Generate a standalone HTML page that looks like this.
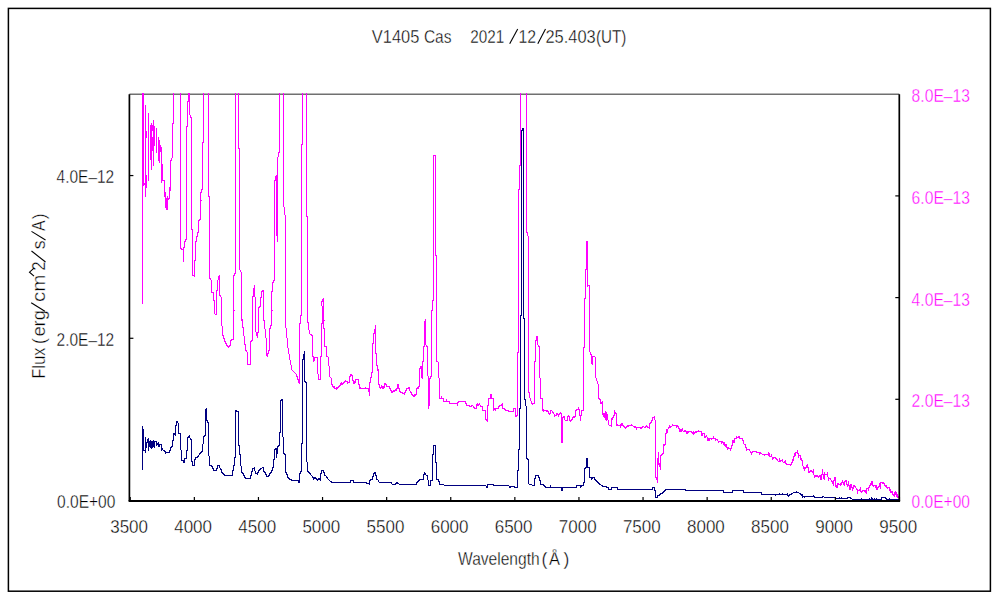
<!DOCTYPE html>
<html><head><meta charset="utf-8"><style>html,body{margin:0;padding:0;background:#fff;width:1000px;height:600px;overflow:hidden}svg{display:block}</style></head>
<body><svg width="1000" height="600" viewBox="0 0 1000 600" shape-rendering="auto">
<rect width="1000" height="600" fill="#fff"/>
<rect x="8.4" y="8.4" width="982" height="582.8" fill="none" stroke="#000" stroke-width="1.5"/>
<line x1="129.4" y1="94.2" x2="899.3" y2="94.2" stroke="#707070" stroke-width="1.6"/>
<clipPath id="c"><rect x="129.4" y="93" width="770.5" height="408"/></clipPath>
<g clip-path="url(#c)" fill="none" stroke-width="1" stroke-linejoin="miter" shape-rendering="crispEdges">
<path d="M142 80h1v224h-1zM143 80h1v106h-1zM144 183h1v2h-1zM145 105h1v92h-1zM146 131h1v7h-1zM146 175h1v13h-1zM148 113h1v68h-1zM150 125h1v35h-1zM151 123h1v47h-1zM152 125h1v6h-1zM152 137h1v14h-1zM153 120h1v46h-1zM154 126h1v20h-1zM156 128h1v25h-1zM158 137h1v24h-1zM159 140h1v23h-1zM160 145h1v7h-1zM161 147h1v36h-1zM162 164h1v17h-1zM163 180h1v1h-1zM164 180h1v17h-1zM165 192h1v16h-1zM166 198h1v12h-1zM167 196h1v14h-1zM168 198h1v2h-1zM169 187h1v12h-1zM170 160h1v31h-1zM171 158h1v3h-1zM172 123h1v35h-1zM173 80h1v44h-1zM180 80h1v169h-1zM181 248h1v2h-1zM182 249h1v1h-1zM183 247h1v15h-1zM184 241h1v7h-1zM185 239h1v3h-1zM186 126h1v114h-1zM187 101h1v26h-1zM188 90h1v12h-1zM189 80h1v35h-1zM190 115h1v3h-1zM191 117h1v113h-1zM192 229h1v47h-1zM193 275h1v1h-1zM194 260h1v17h-1zM195 241h1v20h-1zM196 236h1v6h-1zM197 232h1v5h-1zM198 220h1v13h-1zM199 219h1v2h-1zM200 192h1v28h-1zM201 189h1v4h-1zM201 200h1v1h-1zM202 142h1v48h-1zM203 91h1v52h-1zM204 80h1v12h-1zM205 80h1v1h-1zM206 80h1v1h-1zM207 80h1v1h-1zM208 80h1v117h-1zM209 196h1v83h-1zM210 278h1v2h-1zM211 280h1v13h-1zM212 292h1v1h-1zM213 292h1v9h-1zM214 300h1v14h-1zM215 314h1v1h-1zM216 290h1v25h-1zM217 280h1v11h-1zM218 276h1v4h-1zM219 275h1v21h-1zM220 295h1v2h-1zM221 297h1v29h-1zM222 326h1v10h-1zM223 335h1v4h-1zM224 338h1v4h-1zM225 341h1v3h-1zM226 343h1v3h-1zM227 345h1v2h-1zM228 346h1v2h-1zM229 345h1v2h-1zM230 340h1v6h-1zM231 339h1v2h-1zM232 339h1v1h-1zM233 275h1v65h-1zM234 273h1v3h-1zM234 310h1v1h-1zM235 80h1v194h-1zM236 80h1v1h-1zM237 80h1v1h-1zM238 80h1v69h-1zM239 148h1v122h-1zM240 270h1v2h-1zM241 272h1v49h-1zM242 319h1v9h-1zM243 327h1v9h-1zM244 336h1v9h-1zM245 344h1v7h-1zM246 350h1v2h-1zM247 352h1v13h-1zM248 364h1v1h-1zM249 364h1v1h-1zM250 341h1v24h-1zM251 340h1v2h-1zM252 296h1v45h-1zM253 288h1v9h-1zM254 285h1v12h-1zM255 297h1v35h-1zM256 332h1v4h-1zM257 332h1v6h-1zM258 307h1v26h-1zM259 306h1v2h-1zM260 297h1v10h-1zM261 291h1v7h-1zM262 290h1v2h-1zM263 290h1v31h-1zM264 320h1v9h-1zM265 329h1v9h-1zM266 338h1v18h-1zM267 353h1v4h-1zM268 350h1v4h-1zM269 328h1v23h-1zM270 325h1v4h-1zM271 291h1v35h-1zM272 282h1v10h-1zM272 310h1v1h-1zM273 280h1v3h-1zM274 180h1v101h-1zM275 176h1v5h-1zM276 175h1v61h-1zM277 157h1v85h-1zM278 152h1v5h-1zM279 80h1v73h-1zM280 80h1v1h-1zM281 80h1v1h-1zM282 80h1v1h-1zM283 80h1v127h-1zM284 207h1v8h-1zM285 215h1v113h-1zM286 328h1v10h-1zM287 338h1v10h-1zM288 348h1v6h-1zM289 354h1v6h-1zM290 360h1v5h-1zM291 365h1v5h-1zM292 370h1v1h-1zM293 371h1v1h-1zM294 372h1v1h-1zM295 373h1v1h-1zM296 374h1v3h-1zM297 376h1v4h-1zM298 379h1v4h-1zM299 323h1v61h-1zM300 315h1v9h-1zM301 144h1v172h-1zM302 80h1v65h-1zM303 80h1v1h-1zM304 80h1v1h-1zM305 80h1v1h-1zM306 80h1v137h-1zM307 216h1v107h-1zM308 322h1v8h-1zM309 330h1v4h-1zM310 334h1v1h-1zM311 334h1v2h-1zM312 335h1v22h-1zM313 356h1v6h-1zM314 357h1v4h-1zM315 357h1v1h-1zM316 357h1v1h-1zM317 357h1v17h-1zM318 374h1v6h-1zM319 379h1v1h-1zM320 356h1v24h-1zM321 301h1v5h-1zM321 323h1v34h-1zM322 299h1v3h-1zM322 306h1v18h-1zM323 298h1v31h-1zM324 320h1v1h-1zM324 328h1v19h-1zM325 346h1v1h-1zM326 346h1v11h-1zM327 356h1v1h-1zM328 357h1v9h-1zM329 366h1v11h-1zM330 377h1v1h-1zM331 378h1v7h-1zM332 384h1v3h-1zM333 386h1v2h-1zM334 386h1v3h-1zM335 388h1v1h-1zM336 387h1v3h-1zM337 387h1v2h-1zM338 386h1v2h-1zM339 385h1v2h-1zM340 383h1v3h-1zM341 382h1v3h-1zM342 383h1v2h-1zM343 382h1v2h-1zM344 381h1v2h-1zM345 380h1v2h-1zM346 381h1v1h-1zM347 381h1v3h-1zM348 382h1v1h-1zM349 376h1v7h-1zM350 374h1v3h-1zM351 374h1v2h-1zM352 375h1v6h-1zM353 380h1v4h-1zM354 381h1v3h-1zM355 379h1v4h-1zM356 379h1v1h-1zM357 379h1v1h-1zM358 379h1v6h-1zM359 384h1v5h-1zM360 387h1v2h-1zM361 388h1v1h-1zM362 388h1v1h-1zM363 388h1v1h-1zM364 388h1v1h-1zM365 387h1v2h-1zM366 388h1v1h-1zM367 388h1v1h-1zM368 388h1v4h-1zM369 382h1v14h-1zM370 377h1v6h-1zM371 372h1v6h-1zM372 343h1v30h-1zM373 333h1v11h-1zM374 329h1v5h-1zM375 325h1v29h-1zM376 353h1v13h-1zM377 365h1v6h-1zM378 369h1v16h-1zM379 384h1v4h-1zM380 387h1v2h-1zM381 385h1v3h-1zM382 386h1v3h-1zM383 386h1v3h-1zM384 383h1v5h-1zM385 383h1v2h-1zM386 384h1v3h-1zM387 386h1v1h-1zM388 386h1v1h-1zM389 386h1v3h-1zM390 388h1v3h-1zM391 390h1v3h-1zM392 391h1v2h-1zM393 390h1v2h-1zM394 390h1v2h-1zM395 389h1v2h-1zM396 388h1v3h-1zM397 384h1v5h-1zM398 384h1v5h-1zM399 388h1v4h-1zM400 391h1v2h-1zM401 392h1v1h-1zM402 392h1v2h-1zM403 393h1v1h-1zM404 392h1v3h-1zM405 390h1v3h-1zM406 388h1v3h-1zM407 388h1v1h-1zM408 387h1v2h-1zM409 387h1v4h-1zM410 391h1v2h-1zM411 392h1v3h-1zM412 394h1v2h-1zM413 395h1v2h-1zM414 394h1v3h-1zM415 394h1v2h-1zM416 388h1v7h-1zM417 387h1v2h-1zM418 386h1v3h-1zM419 368h1v19h-1zM420 366h1v3h-1zM421 366h1v12h-1zM422 361h1v18h-1zM423 346h1v16h-1zM424 321h1v26h-1zM425 319h1v26h-1zM426 345h1v2h-1zM427 346h1v30h-1zM428 376h1v33h-1zM429 378h1v28h-1zM430 376h1v3h-1zM431 310h1v67h-1zM432 300h1v11h-1zM433 155h1v146h-1zM434 155h1v1h-1zM435 155h1v101h-1zM436 255h1v107h-1zM437 361h1v1h-1zM438 362h1v16h-1zM439 378h1v21h-1zM440 398h1v1h-1zM441 396h1v3h-1zM442 398h1v1h-1zM443 398h1v4h-1zM444 401h1v1h-1zM445 401h1v1h-1zM446 399h1v3h-1zM447 401h1v1h-1zM448 401h1v1h-1zM449 401h1v3h-1zM450 403h1v1h-1zM451 403h1v1h-1zM452 403h1v1h-1zM453 403h1v1h-1zM454 403h1v1h-1zM455 403h1v1h-1zM456 403h1v1h-1zM457 402h1v4h-1zM458 401h1v2h-1zM459 401h1v1h-1zM460 401h1v1h-1zM461 401h1v1h-1zM462 401h1v1h-1zM463 401h1v1h-1zM464 401h1v1h-1zM465 401h1v3h-1zM466 403h1v3h-1zM467 405h1v1h-1zM468 405h1v1h-1zM469 405h1v2h-1zM470 406h1v1h-1zM471 405h1v2h-1zM472 405h1v1h-1zM473 406h1v2h-1zM474 407h1v2h-1zM475 408h1v1h-1zM476 404h1v5h-1zM477 403h1v3h-1zM478 404h1v2h-1zM479 403h1v2h-1zM480 405h1v2h-1zM481 406h1v1h-1zM482 406h1v5h-1zM483 410h1v1h-1zM484 410h1v1h-1zM485 410h1v10h-1zM486 419h1v2h-1zM487 405h1v17h-1zM488 398h1v8h-1zM489 398h1v1h-1zM490 394h1v5h-1zM491 394h1v5h-1zM492 398h1v1h-1zM493 398h1v13h-1zM494 408h1v2h-1zM495 408h1v3h-1zM496 408h1v1h-1zM497 408h1v1h-1zM498 406h1v3h-1zM499 405h1v2h-1zM500 405h1v1h-1zM501 404h1v2h-1zM502 403h1v6h-1zM503 408h1v1h-1zM504 408h1v2h-1zM505 409h1v2h-1zM506 410h1v1h-1zM507 410h1v1h-1zM508 410h1v2h-1zM509 411h1v1h-1zM510 411h1v1h-1zM511 411h1v1h-1zM512 411h1v1h-1zM513 408h1v4h-1zM514 408h1v1h-1zM515 408h1v9h-1zM516 415h1v2h-1zM517 352h1v64h-1zM518 189h1v164h-1zM519 165h1v25h-1zM520 80h1v86h-1zM521 80h1v1h-1zM522 80h1v1h-1zM523 80h1v1h-1zM524 80h1v1h-1zM525 80h1v1h-1zM526 80h1v153h-1zM527 232h1v4h-1zM528 236h1v157h-1zM529 392h1v6h-1zM530 398h1v3h-1zM531 401h1v3h-1zM532 403h1v2h-1zM533 403h1v1h-1zM534 361h1v43h-1zM535 340h1v22h-1zM536 336h1v5h-1zM537 336h1v9h-1zM538 345h1v2h-1zM539 346h1v32h-1zM540 378h1v21h-1zM541 398h1v1h-1zM542 398h1v13h-1zM543 409h1v3h-1zM544 410h1v1h-1zM545 410h1v1h-1zM546 410h1v2h-1zM547 410h1v2h-1zM548 411h1v3h-1zM549 413h1v2h-1zM550 410h1v4h-1zM551 410h1v1h-1zM552 411h1v2h-1zM553 412h1v2h-1zM554 414h1v3h-1zM555 415h1v1h-1zM556 413h1v3h-1zM557 413h1v2h-1zM558 414h1v3h-1zM559 413h1v2h-1zM560 412h1v2h-1zM561 413h1v30h-1zM562 417h1v26h-1zM563 416h1v2h-1zM564 416h1v4h-1zM565 420h1v1h-1zM566 420h1v1h-1zM567 416h1v5h-1zM568 415h1v2h-1zM569 416h1v5h-1zM570 420h1v2h-1zM571 419h1v2h-1zM572 417h1v3h-1zM573 416h1v2h-1zM574 416h1v2h-1zM575 410h1v7h-1zM576 409h1v2h-1zM577 409h1v1h-1zM578 407h1v3h-1zM579 409h1v7h-1zM580 415h1v6h-1zM581 410h1v6h-1zM582 410h1v1h-1zM583 347h1v64h-1zM584 298h1v50h-1zM585 269h1v30h-1zM586 241h1v29h-1zM587 241h1v46h-1zM588 285h1v1h-1zM589 285h1v67h-1zM590 352h1v3h-1zM591 354h1v10h-1zM592 356h1v9h-1zM593 356h1v1h-1zM594 356h1v1h-1zM595 357h1v21h-1zM596 378h1v3h-1zM597 381h1v3h-1zM598 384h1v15h-1zM599 398h1v2h-1zM600 399h1v5h-1zM601 402h1v2h-1zM602 401h1v14h-1zM603 413h1v4h-1zM604 413h1v5h-1zM605 411h1v9h-1zM606 412h1v9h-1zM607 414h1v6h-1zM608 420h1v5h-1zM609 425h1v1h-1zM610 425h1v1h-1zM611 418h1v9h-1zM612 417h1v3h-1zM613 415h1v3h-1zM614 410h1v6h-1zM615 412h1v2h-1zM616 413h1v13h-1zM617 424h1v2h-1zM618 425h1v1h-1zM619 425h1v1h-1zM620 424h1v4h-1zM621 423h1v3h-1zM622 423h1v3h-1zM623 425h1v2h-1zM624 426h1v2h-1zM625 427h1v2h-1zM626 426h1v2h-1zM627 425h1v2h-1zM628 425h1v2h-1zM629 425h1v1h-1zM630 425h1v1h-1zM631 424h1v2h-1zM632 425h1v1h-1zM633 426h1v1h-1zM634 426h1v2h-1zM635 426h1v2h-1zM636 427h1v3h-1zM637 427h1v1h-1zM638 427h1v1h-1zM639 427h1v1h-1zM640 427h1v2h-1zM641 427h1v2h-1zM642 426h1v2h-1zM643 426h1v1h-1zM644 427h1v1h-1zM645 426h1v2h-1zM646 425h1v2h-1zM647 426h1v2h-1zM648 427h1v1h-1zM649 423h1v6h-1zM650 422h1v2h-1zM651 420h1v3h-1zM652 417h1v4h-1zM653 417h1v1h-1zM654 416h1v4h-1zM655 420h1v58h-1zM656 477h1v3h-1zM657 458h1v25h-1zM658 452h1v13h-1zM659 463h1v4h-1zM660 455h1v15h-1zM661 454h1v2h-1zM662 453h1v2h-1zM663 444h1v10h-1zM664 444h1v2h-1zM665 433h1v12h-1zM666 429h1v5h-1zM667 429h1v4h-1zM668 427h1v2h-1zM669 425h1v3h-1zM670 426h1v2h-1zM671 426h1v1h-1zM672 424h1v2h-1zM673 425h1v1h-1zM674 425h1v1h-1zM675 425h1v1h-1zM676 425h1v3h-1zM677 425h1v2h-1zM678 426h1v3h-1zM679 428h1v4h-1zM680 429h1v3h-1zM681 429h1v3h-1zM682 428h1v3h-1zM683 431h1v1h-1zM684 430h1v2h-1zM685 430h1v2h-1zM686 431h1v3h-1zM687 431h1v3h-1zM688 431h1v2h-1zM689 431h1v1h-1zM690 431h1v1h-1zM691 431h1v2h-1zM692 432h1v2h-1zM693 431h1v4h-1zM694 432h1v2h-1zM695 431h1v2h-1zM696 431h1v2h-1zM697 431h1v1h-1zM698 430h1v2h-1zM699 431h1v1h-1zM700 431h1v1h-1zM701 431h1v5h-1zM702 433h1v3h-1zM703 433h1v1h-1zM704 433h1v5h-1zM705 436h1v2h-1zM706 435h1v2h-1zM707 437h1v4h-1zM708 438h1v3h-1zM709 438h1v3h-1zM710 438h1v1h-1zM711 438h1v2h-1zM712 438h1v1h-1zM713 436h1v3h-1zM714 438h1v1h-1zM715 438h1v3h-1zM716 439h1v1h-1zM717 439h1v2h-1zM718 441h1v2h-1zM719 441h1v1h-1zM720 441h1v1h-1zM721 441h1v3h-1zM722 441h1v2h-1zM723 442h1v3h-1zM724 442h1v4h-1zM725 444h1v3h-1zM726 444h1v4h-1zM727 447h1v3h-1zM728 447h1v2h-1zM729 448h1v1h-1zM730 448h1v3h-1zM731 445h1v4h-1zM732 440h1v6h-1zM733 440h1v3h-1zM734 438h1v5h-1zM735 438h1v1h-1zM736 436h1v3h-1zM737 437h1v1h-1zM738 436h1v2h-1zM739 436h1v3h-1zM740 438h1v1h-1zM741 438h1v1h-1zM742 438h1v3h-1zM743 440h1v4h-1zM744 444h1v1h-1zM745 444h1v4h-1zM746 447h1v4h-1zM747 449h1v1h-1zM748 449h1v1h-1zM749 449h1v2h-1zM750 451h1v2h-1zM751 452h1v3h-1zM752 451h1v2h-1zM753 451h1v1h-1zM754 451h1v1h-1zM755 451h1v1h-1zM756 451h1v2h-1zM757 452h1v1h-1zM758 452h1v1h-1zM759 452h1v3h-1zM760 452h1v2h-1zM761 453h1v1h-1zM762 454h1v1h-1zM763 454h1v1h-1zM764 454h1v2h-1zM765 454h1v1h-1zM766 454h1v1h-1zM767 454h1v1h-1zM768 452h1v4h-1zM769 453h1v4h-1zM770 456h1v1h-1zM771 454h1v3h-1zM772 457h1v3h-1zM773 457h1v2h-1zM774 457h1v1h-1zM775 457h1v2h-1zM776 458h1v2h-1zM777 459h1v2h-1zM778 461h1v1h-1zM779 458h1v4h-1zM780 460h1v2h-1zM781 460h1v1h-1zM782 459h1v3h-1zM783 462h1v1h-1zM784 461h1v2h-1zM785 460h1v4h-1zM786 463h1v2h-1zM787 464h1v1h-1zM788 464h1v1h-1zM789 464h1v1h-1zM790 464h1v2h-1zM791 462h1v3h-1zM792 459h1v4h-1zM793 456h1v5h-1zM794 453h1v4h-1zM795 452h1v4h-1zM796 452h1v1h-1zM797 450h1v4h-1zM798 453h1v5h-1zM799 455h1v1h-1zM800 455h1v5h-1zM801 458h1v3h-1zM802 460h1v6h-1zM803 466h1v3h-1zM804 467h1v4h-1zM805 467h1v2h-1zM806 465h1v3h-1zM807 464h1v4h-1zM808 467h1v6h-1zM809 471h1v2h-1zM810 470h1v2h-1zM811 470h1v2h-1zM812 471h1v2h-1zM813 469h1v6h-1zM814 475h1v3h-1zM815 475h1v2h-1zM816 475h1v2h-1zM817 475h1v2h-1zM818 476h1v2h-1zM819 475h1v2h-1zM820 475h1v5h-1zM821 474h1v6h-1zM822 469h1v6h-1zM823 474h1v5h-1zM824 472h1v8h-1zM825 474h1v1h-1zM826 474h1v1h-1zM827 472h1v5h-1zM828 477h1v4h-1zM829 478h1v1h-1zM830 478h1v2h-1zM831 480h1v2h-1zM832 481h1v3h-1zM833 480h1v6h-1zM834 477h1v4h-1zM835 477h1v10h-1zM836 485h1v3h-1zM837 483h1v5h-1zM838 483h1v2h-1zM839 484h1v1h-1zM840 483h1v3h-1zM841 482h1v3h-1zM842 480h1v3h-1zM843 482h1v3h-1zM844 481h1v5h-1zM845 480h1v2h-1zM846 480h1v5h-1zM847 484h1v3h-1zM848 481h1v5h-1zM849 485h1v5h-1zM850 484h1v6h-1zM851 484h1v4h-1zM852 487h1v4h-1zM853 485h1v4h-1zM854 485h1v2h-1zM855 486h1v2h-1zM856 488h1v2h-1zM857 489h1v5h-1zM858 490h1v1h-1zM859 489h1v2h-1zM860 487h1v5h-1zM861 491h1v2h-1zM862 490h1v2h-1zM863 490h1v1h-1zM864 490h1v2h-1zM865 490h1v3h-1zM866 488h1v6h-1zM867 488h1v1h-1zM868 487h1v4h-1zM869 485h1v3h-1zM870 483h1v3h-1zM871 481h1v4h-1zM872 481h1v5h-1zM873 485h1v2h-1zM874 485h1v1h-1zM875 485h1v3h-1zM876 485h1v5h-1zM877 487h1v3h-1zM878 486h1v2h-1zM879 483h1v4h-1zM880 482h1v7h-1zM881 482h1v1h-1zM882 482h1v2h-1zM883 482h1v2h-1zM884 483h1v3h-1zM885 485h1v2h-1zM886 485h1v3h-1zM887 487h1v2h-1zM888 487h1v1h-1zM889 487h1v4h-1zM890 489h1v4h-1zM891 491h1v2h-1zM892 491h1v4h-1zM893 494h1v2h-1zM894 492h1v5h-1zM895 491h1v4h-1zM896 492h1v5h-1zM897 494h1v4h-1zM898 496h1v2h-1zM899 497h1v1h-1z" fill="#FF00FF" shape-rendering="crispEdges"/>
<path d="M142 426h1v44h-1zM143 429h1v22h-1zM144 450h1v1h-1zM145 437h1v16h-1zM146 442h1v6h-1zM147 439h1v4h-1zM148 438h1v13h-1zM149 441h1v6h-1zM150 440h1v8h-1zM151 441h1v8h-1zM152 441h1v7h-1zM153 440h1v7h-1zM154 441h1v7h-1zM155 441h1v1h-1zM156 441h1v5h-1zM157 443h1v2h-1zM158 442h1v5h-1zM159 444h1v3h-1zM160 444h1v1h-1zM161 444h1v7h-1zM162 448h1v2h-1zM163 450h1v1h-1zM164 450h1v2h-1zM165 451h1v3h-1zM166 452h1v1h-1zM167 452h1v1h-1zM168 452h1v1h-1zM169 450h1v3h-1zM170 447h1v4h-1zM171 446h1v2h-1zM172 440h1v7h-1zM173 433h1v8h-1zM174 433h1v2h-1zM175 425h1v11h-1zM176 421h1v5h-1zM177 421h1v2h-1zM178 423h1v11h-1zM179 433h1v1h-1zM180 433h1v17h-1zM181 450h1v11h-1zM182 460h1v1h-1zM183 460h1v3h-1zM184 458h1v5h-1zM185 458h1v1h-1zM186 450h1v9h-1zM187 437h1v14h-1zM188 436h1v2h-1zM189 435h1v3h-1zM190 438h1v2h-1zM191 439h1v23h-1zM192 461h1v5h-1zM193 465h1v1h-1zM194 459h1v7h-1zM195 457h1v3h-1zM196 457h1v1h-1zM197 456h1v2h-1zM198 455h1v2h-1zM199 453h1v2h-1zM200 452h1v2h-1zM201 451h1v2h-1zM202 444h1v8h-1zM203 436h1v8h-1zM204 435h1v2h-1zM205 409h1v27h-1zM206 408h1v13h-1zM207 420h1v3h-1zM208 422h1v34h-1zM209 456h1v10h-1zM210 465h1v1h-1zM211 465h1v2h-1zM212 466h1v3h-1zM213 468h1v3h-1zM214 470h1v1h-1zM215 470h1v1h-1zM216 468h1v3h-1zM217 465h1v4h-1zM218 465h1v1h-1zM219 465h1v3h-1zM220 468h1v2h-1zM221 469h1v4h-1zM222 472h1v2h-1zM223 473h1v2h-1zM224 474h1v2h-1zM225 475h1v1h-1zM226 475h1v1h-1zM227 475h1v1h-1zM228 475h1v1h-1zM229 475h1v1h-1zM230 475h1v1h-1zM231 475h1v1h-1zM232 470h1v6h-1zM233 465h1v6h-1zM234 457h1v9h-1zM235 410h1v48h-1zM236 410h1v2h-1zM237 411h1v1h-1zM238 411h1v35h-1zM239 445h1v10h-1zM240 454h1v12h-1zM241 466h1v7h-1zM242 472h1v2h-1zM243 473h1v3h-1zM244 475h1v3h-1zM245 477h1v2h-1zM246 478h1v1h-1zM247 478h1v1h-1zM248 478h1v1h-1zM249 478h1v1h-1zM250 475h1v4h-1zM251 471h1v5h-1zM252 468h1v4h-1zM253 468h1v1h-1zM254 467h1v4h-1zM255 471h1v3h-1zM256 473h1v1h-1zM257 472h1v3h-1zM258 470h1v3h-1zM259 469h1v2h-1zM260 468h1v2h-1zM261 468h1v1h-1zM262 467h1v1h-1zM263 467h1v5h-1zM264 471h1v2h-1zM265 472h1v3h-1zM266 474h1v3h-1zM267 476h1v1h-1zM268 475h1v2h-1zM269 473h1v3h-1zM270 472h1v2h-1zM271 470h1v3h-1zM272 467h1v4h-1zM273 459h1v9h-1zM274 449h1v11h-1zM275 448h1v2h-1zM276 448h1v10h-1zM277 446h1v8h-1zM278 445h1v2h-1zM279 432h1v14h-1zM280 400h1v33h-1zM281 399h1v2h-1zM282 399h1v38h-1zM283 437h1v17h-1zM284 453h1v2h-1zM285 454h1v19h-1zM286 472h1v3h-1zM287 474h1v4h-1zM288 477h1v2h-1zM289 478h1v2h-1zM290 479h1v1h-1zM291 479h1v2h-1zM292 480h1v1h-1zM293 480h1v1h-1zM294 480h1v1h-1zM295 480h1v1h-1zM296 480h1v1h-1zM297 480h1v1h-1zM298 480h1v3h-1zM299 473h1v10h-1zM300 471h1v3h-1zM301 443h1v29h-1zM302 359h1v85h-1zM303 354h1v6h-1zM304 351h1v31h-1zM305 381h1v2h-1zM306 382h1v80h-1zM307 462h1v10h-1zM308 471h1v2h-1zM309 472h1v2h-1zM310 473h1v2h-1zM311 475h1v1h-1zM312 476h1v2h-1zM313 477h1v3h-1zM314 477h1v2h-1zM315 477h1v2h-1zM316 478h1v2h-1zM317 479h1v2h-1zM318 478h1v2h-1zM319 478h1v2h-1zM320 473h1v8h-1zM321 470h1v4h-1zM322 470h1v1h-1zM323 470h1v3h-1zM324 472h1v4h-1zM325 475h1v1h-1zM326 476h1v2h-1zM327 477h1v2h-1zM328 479h1v1h-1zM329 480h1v1h-1zM330 481h1v1h-1zM331 481h1v2h-1zM332 482h1v1h-1zM333 482h1v1h-1zM334 482h1v1h-1zM335 482h1v1h-1zM336 482h1v1h-1zM337 482h1v1h-1zM338 482h1v1h-1zM339 482h1v1h-1zM340 482h1v1h-1zM341 482h1v1h-1zM342 482h1v1h-1zM343 482h1v1h-1zM344 482h1v1h-1zM345 482h1v1h-1zM346 482h1v1h-1zM347 482h1v1h-1zM348 482h1v1h-1zM349 482h1v1h-1zM350 480h1v3h-1zM351 480h1v1h-1zM352 480h1v1h-1zM353 480h1v3h-1zM354 482h1v1h-1zM355 482h1v1h-1zM356 482h1v1h-1zM357 482h1v1h-1zM358 482h1v1h-1zM359 482h1v1h-1zM360 482h1v1h-1zM361 482h1v1h-1zM362 482h1v1h-1zM363 482h1v1h-1zM364 482h1v1h-1zM365 482h1v1h-1zM366 482h1v2h-1zM367 483h1v1h-1zM368 483h1v1h-1zM369 480h1v5h-1zM370 479h1v2h-1zM371 479h1v1h-1zM372 476h1v4h-1zM373 473h1v4h-1zM374 472h1v2h-1zM375 472h1v4h-1zM376 475h1v5h-1zM377 479h1v1h-1zM378 480h1v2h-1zM379 482h1v1h-1zM380 482h1v1h-1zM381 482h1v1h-1zM382 482h1v1h-1zM383 482h1v1h-1zM384 482h1v1h-1zM385 482h1v1h-1zM386 482h1v1h-1zM387 482h1v1h-1zM388 482h1v1h-1zM389 482h1v1h-1zM390 482h1v1h-1zM391 482h1v2h-1zM392 484h1v1h-1zM393 484h1v1h-1zM394 484h1v1h-1zM395 483h1v2h-1zM396 482h1v2h-1zM397 482h1v2h-1zM398 483h1v1h-1zM399 484h1v1h-1zM400 484h1v1h-1zM401 484h1v1h-1zM402 484h1v1h-1zM403 484h1v1h-1zM404 484h1v1h-1zM405 484h1v1h-1zM406 484h1v1h-1zM407 484h1v1h-1zM408 484h1v1h-1zM409 484h1v1h-1zM410 484h1v1h-1zM411 484h1v1h-1zM412 484h1v1h-1zM413 484h1v1h-1zM414 484h1v1h-1zM415 484h1v1h-1zM416 482h1v3h-1zM417 481h1v2h-1zM418 480h1v2h-1zM419 479h1v2h-1zM420 479h1v1h-1zM421 479h1v1h-1zM422 479h1v1h-1zM423 474h1v6h-1zM424 472h1v3h-1zM425 473h1v2h-1zM426 475h1v1h-1zM427 475h1v5h-1zM428 480h1v6h-1zM429 485h1v1h-1zM430 480h1v6h-1zM431 480h1v1h-1zM432 454h1v27h-1zM433 445h1v10h-1zM434 445h1v1h-1zM435 445h1v18h-1zM436 462h1v18h-1zM437 479h1v1h-1zM438 479h1v3h-1zM439 481h1v4h-1zM440 484h1v1h-1zM441 484h1v1h-1zM442 484h1v1h-1zM443 484h1v1h-1zM444 485h1v1h-1zM445 485h1v1h-1zM446 485h1v1h-1zM447 485h1v1h-1zM448 485h1v1h-1zM449 485h1v1h-1zM450 485h1v1h-1zM451 485h1v1h-1zM452 485h1v1h-1zM453 485h1v1h-1zM454 485h1v1h-1zM455 485h1v1h-1zM456 485h1v1h-1zM457 485h1v1h-1zM458 485h1v1h-1zM459 485h1v1h-1zM460 485h1v1h-1zM461 485h1v1h-1zM462 485h1v1h-1zM463 485h1v1h-1zM464 485h1v1h-1zM465 485h1v1h-1zM466 485h1v1h-1zM467 485h1v1h-1zM468 485h1v1h-1zM469 485h1v1h-1zM470 485h1v1h-1zM471 485h1v1h-1zM472 485h1v1h-1zM473 485h1v1h-1zM474 485h1v1h-1zM475 485h1v1h-1zM476 485h1v1h-1zM477 485h1v1h-1zM478 485h1v1h-1zM479 485h1v1h-1zM480 485h1v1h-1zM481 485h1v1h-1zM482 485h1v1h-1zM483 485h1v1h-1zM484 485h1v1h-1zM485 485h1v1h-1zM486 486h1v2h-1zM487 484h1v4h-1zM488 484h1v1h-1zM489 484h1v1h-1zM490 484h1v1h-1zM491 484h1v1h-1zM492 484h1v1h-1zM493 484h1v2h-1zM494 485h1v1h-1zM495 485h1v1h-1zM496 485h1v1h-1zM497 485h1v1h-1zM498 485h1v1h-1zM499 485h1v1h-1zM500 485h1v1h-1zM501 485h1v1h-1zM502 485h1v1h-1zM503 485h1v1h-1zM504 485h1v1h-1zM505 485h1v1h-1zM506 485h1v1h-1zM507 485h1v1h-1zM508 485h1v1h-1zM509 486h1v2h-1zM510 486h1v2h-1zM511 486h1v1h-1zM512 486h1v1h-1zM513 486h1v1h-1zM514 486h1v2h-1zM515 487h1v1h-1zM516 487h1v1h-1zM517 470h1v18h-1zM518 449h1v22h-1zM519 408h1v42h-1zM520 315h1v94h-1zM521 130h1v186h-1zM522 128h1v3h-1zM523 128h1v191h-1zM524 318h1v82h-1zM525 399h1v7h-1zM526 406h1v53h-1zM527 458h1v2h-1zM528 459h1v25h-1zM529 484h1v1h-1zM530 484h1v1h-1zM531 484h1v1h-1zM532 485h1v1h-1zM533 485h1v1h-1zM534 478h1v8h-1zM535 475h1v4h-1zM536 475h1v1h-1zM537 475h1v1h-1zM538 475h1v3h-1zM539 477h1v4h-1zM540 480h1v5h-1zM541 484h1v1h-1zM542 484h1v1h-1zM543 484h1v2h-1zM544 485h1v2h-1zM545 486h1v2h-1zM546 487h1v1h-1zM547 487h1v1h-1zM548 487h1v1h-1zM549 487h1v1h-1zM550 485h1v3h-1zM551 487h1v1h-1zM552 487h1v1h-1zM553 487h1v1h-1zM554 487h1v1h-1zM555 487h1v1h-1zM556 487h1v1h-1zM557 487h1v1h-1zM558 487h1v1h-1zM559 487h1v1h-1zM560 487h1v1h-1zM561 487h1v4h-1zM562 487h1v4h-1zM563 487h1v1h-1zM564 487h1v1h-1zM565 487h1v1h-1zM566 487h1v1h-1zM567 487h1v1h-1zM568 487h1v1h-1zM569 487h1v1h-1zM570 487h1v1h-1zM571 487h1v1h-1zM572 487h1v1h-1zM573 487h1v1h-1zM574 487h1v1h-1zM575 487h1v1h-1zM576 485h1v3h-1zM577 485h1v1h-1zM578 485h1v1h-1zM579 485h1v1h-1zM580 485h1v3h-1zM581 485h1v2h-1zM582 485h1v1h-1zM583 482h1v4h-1zM584 468h1v15h-1zM585 467h1v2h-1zM586 458h1v10h-1zM587 458h1v10h-1zM588 467h1v1h-1zM589 467h1v11h-1zM590 477h1v1h-1zM591 477h1v3h-1zM592 477h1v2h-1zM593 477h1v1h-1zM594 477h1v3h-1zM595 479h1v2h-1zM596 480h1v2h-1zM597 481h1v2h-1zM598 482h1v2h-1zM599 483h1v2h-1zM600 484h1v1h-1zM601 485h1v1h-1zM602 485h1v2h-1zM603 486h1v1h-1zM604 486h1v1h-1zM605 486h1v1h-1zM606 486h1v2h-1zM607 487h1v1h-1zM608 487h1v3h-1zM609 489h1v1h-1zM610 489h1v1h-1zM611 487h1v3h-1zM612 487h1v1h-1zM613 487h1v1h-1zM614 487h1v1h-1zM615 487h1v1h-1zM616 487h1v1h-1zM617 487h1v3h-1zM618 489h1v1h-1zM619 489h1v1h-1zM620 489h1v1h-1zM621 489h1v1h-1zM622 489h1v1h-1zM623 489h1v1h-1zM624 489h1v1h-1zM625 489h1v1h-1zM626 489h1v1h-1zM627 489h1v1h-1zM628 489h1v1h-1zM629 489h1v1h-1zM630 489h1v1h-1zM631 489h1v1h-1zM632 489h1v1h-1zM633 489h1v1h-1zM634 489h1v1h-1zM635 489h1v1h-1zM636 489h1v1h-1zM637 489h1v1h-1zM638 489h1v1h-1zM639 489h1v1h-1zM640 489h1v1h-1zM641 489h1v1h-1zM642 489h1v1h-1zM643 489h1v1h-1zM644 489h1v1h-1zM645 489h1v1h-1zM646 489h1v1h-1zM647 489h1v1h-1zM648 489h1v1h-1zM649 489h1v1h-1zM650 489h1v1h-1zM651 489h1v1h-1zM652 487h1v3h-1zM653 487h1v1h-1zM654 487h1v4h-1zM655 490h1v8h-1zM656 497h1v1h-1zM657 495h1v3h-1zM658 495h1v1h-1zM659 494h1v2h-1zM660 493h1v2h-1zM661 493h1v1h-1zM662 492h1v2h-1zM663 491h1v2h-1zM664 490h1v2h-1zM665 489h1v2h-1zM666 489h1v1h-1zM667 489h1v1h-1zM668 489h1v1h-1zM669 489h1v1h-1zM670 489h1v1h-1zM671 489h1v1h-1zM672 489h1v1h-1zM673 489h1v1h-1zM674 489h1v1h-1zM675 489h1v1h-1zM676 489h1v1h-1zM677 489h1v1h-1zM678 489h1v1h-1zM679 489h1v1h-1zM680 489h1v1h-1zM681 489h1v1h-1zM682 489h1v1h-1zM683 489h1v1h-1zM684 489h1v1h-1zM685 489h1v2h-1zM686 490h1v1h-1zM687 490h1v1h-1zM688 490h1v1h-1zM689 490h1v1h-1zM690 490h1v1h-1zM691 490h1v1h-1zM692 490h1v1h-1zM693 490h1v1h-1zM694 490h1v1h-1zM695 490h1v1h-1zM696 490h1v1h-1zM697 490h1v1h-1zM698 490h1v1h-1zM699 490h1v1h-1zM700 490h1v1h-1zM701 490h1v1h-1zM702 490h1v1h-1zM703 490h1v1h-1zM704 490h1v1h-1zM705 490h1v1h-1zM706 490h1v1h-1zM707 490h1v1h-1zM708 490h1v1h-1zM709 490h1v1h-1zM710 490h1v1h-1zM711 490h1v1h-1zM712 490h1v1h-1zM713 490h1v1h-1zM714 490h1v1h-1zM715 490h1v1h-1zM716 490h1v1h-1zM717 490h1v1h-1zM718 490h1v1h-1zM719 490h1v1h-1zM720 490h1v1h-1zM721 490h1v1h-1zM722 490h1v1h-1zM723 490h1v3h-1zM724 492h1v1h-1zM725 492h1v1h-1zM726 492h1v1h-1zM727 492h1v1h-1zM728 492h1v1h-1zM729 492h1v1h-1zM730 492h1v1h-1zM731 492h1v1h-1zM732 490h1v3h-1zM733 490h1v1h-1zM734 490h1v1h-1zM735 490h1v1h-1zM736 490h1v1h-1zM737 490h1v1h-1zM738 490h1v1h-1zM739 490h1v1h-1zM740 490h1v1h-1zM741 490h1v1h-1zM742 490h1v1h-1zM743 490h1v3h-1zM744 492h1v1h-1zM745 492h1v1h-1zM746 492h1v1h-1zM747 492h1v1h-1zM748 492h1v1h-1zM749 492h1v1h-1zM750 492h1v1h-1zM751 492h1v1h-1zM752 492h1v1h-1zM753 492h1v1h-1zM754 492h1v1h-1zM755 492h1v1h-1zM756 492h1v1h-1zM757 492h1v1h-1zM758 492h1v1h-1zM759 492h1v1h-1zM760 492h1v1h-1zM761 492h1v3h-1zM762 494h1v1h-1zM763 494h1v1h-1zM764 494h1v1h-1zM765 494h1v1h-1zM766 494h1v1h-1zM767 494h1v1h-1zM768 494h1v1h-1zM769 494h1v1h-1zM770 494h1v1h-1zM771 494h1v1h-1zM772 494h1v1h-1zM773 494h1v1h-1zM774 494h1v1h-1zM775 494h1v2h-1zM776 494h1v1h-1zM777 494h1v1h-1zM778 494h1v1h-1zM779 493h1v2h-1zM780 494h1v1h-1zM781 494h1v1h-1zM782 493h1v2h-1zM783 494h1v1h-1zM784 494h1v1h-1zM785 494h1v1h-1zM786 494h1v1h-1zM787 493h1v3h-1zM788 495h1v2h-1zM789 494h1v2h-1zM790 494h1v1h-1zM791 493h1v2h-1zM792 493h1v1h-1zM793 492h1v1h-1zM794 492h1v1h-1zM795 492h1v1h-1zM796 491h1v2h-1zM797 492h1v1h-1zM798 492h1v1h-1zM799 493h1v1h-1zM800 493h1v2h-1zM801 494h1v2h-1zM802 494h1v4h-1zM803 496h1v1h-1zM804 496h1v2h-1zM805 496h1v1h-1zM806 496h1v1h-1zM807 496h1v1h-1zM808 496h1v1h-1zM809 496h1v1h-1zM810 496h1v1h-1zM811 496h1v1h-1zM812 496h1v1h-1zM813 495h1v2h-1zM814 496h1v2h-1zM815 497h1v1h-1zM816 497h1v1h-1zM817 497h1v1h-1zM818 497h1v1h-1zM819 497h1v1h-1zM820 497h1v1h-1zM821 497h1v1h-1zM822 496h1v2h-1zM823 496h1v1h-1zM824 497h1v1h-1zM825 497h1v1h-1zM826 497h1v1h-1zM827 497h1v1h-1zM828 497h1v1h-1zM829 497h1v1h-1zM830 497h1v1h-1zM831 497h1v1h-1zM832 497h1v1h-1zM833 497h1v1h-1zM834 497h1v1h-1zM835 497h1v2h-1zM836 498h1v1h-1zM837 498h1v1h-1zM838 498h1v1h-1zM839 497h1v2h-1zM840 498h1v1h-1zM841 497h1v2h-1zM842 498h1v1h-1zM843 498h1v1h-1zM844 498h1v1h-1zM845 498h1v1h-1zM846 498h1v1h-1zM847 497h1v2h-1zM848 497h1v1h-1zM849 497h1v1h-1zM850 497h1v2h-1zM851 498h1v1h-1zM852 499h1v1h-1zM853 499h1v1h-1zM854 499h1v1h-1zM855 499h1v1h-1zM856 499h1v1h-1zM857 499h1v1h-1zM858 499h1v1h-1zM859 499h1v1h-1zM860 499h1v1h-1zM861 498h1v2h-1zM862 499h1v1h-1zM863 499h1v1h-1zM864 499h1v1h-1zM865 499h1v1h-1zM866 499h1v1h-1zM867 499h1v1h-1zM868 499h1v1h-1zM869 498h1v2h-1zM870 499h1v1h-1zM871 497h1v3h-1zM872 498h1v3h-1zM873 499h1v1h-1zM874 498h1v2h-1zM875 499h1v1h-1zM876 498h1v2h-1zM877 499h1v1h-1zM878 499h1v1h-1zM879 499h1v1h-1zM880 499h1v1h-1zM881 497h1v3h-1zM882 497h1v1h-1zM883 497h1v1h-1zM884 497h1v1h-1zM885 497h1v2h-1zM886 498h1v2h-1zM887 499h1v1h-1zM888 499h1v1h-1zM889 498h1v2h-1zM890 499h1v1h-1zM891 499h1v1h-1zM892 499h1v1h-1zM893 499h1v2h-1zM894 499h1v1h-1zM895 499h1v1h-1zM896 499h1v1h-1zM897 499h1v1h-1zM898 499h1v1h-1zM899 499h1v1h-1z" fill="#000080" shape-rendering="crispEdges"/>
</g>
<line x1="129.4" y1="94.2" x2="129.4" y2="501" stroke="#000" stroke-width="1.7"/>
<line x1="899.3" y1="94.2" x2="899.3" y2="501" stroke="#000" stroke-width="1.7"/>
<line x1="128.6" y1="501" x2="900.1" y2="501" stroke="#000" stroke-width="1.8"/>
<line x1="130.25" y1="501" x2="130.25" y2="497" stroke="#000" stroke-width="1.2"/>
<line x1="194.35" y1="501" x2="194.35" y2="497" stroke="#000" stroke-width="1.2"/>
<line x1="258.45" y1="501" x2="258.45" y2="497" stroke="#000" stroke-width="1.2"/>
<line x1="322.55" y1="501" x2="322.55" y2="497" stroke="#000" stroke-width="1.2"/>
<line x1="386.65" y1="501" x2="386.65" y2="497" stroke="#000" stroke-width="1.2"/>
<line x1="450.75" y1="501" x2="450.75" y2="497" stroke="#000" stroke-width="1.2"/>
<line x1="514.85" y1="501" x2="514.85" y2="497" stroke="#000" stroke-width="1.2"/>
<line x1="578.95" y1="501" x2="578.95" y2="497" stroke="#000" stroke-width="1.2"/>
<line x1="643.05" y1="501" x2="643.05" y2="497" stroke="#000" stroke-width="1.2"/>
<line x1="707.15" y1="501" x2="707.15" y2="497" stroke="#000" stroke-width="1.2"/>
<line x1="771.25" y1="501" x2="771.25" y2="497" stroke="#000" stroke-width="1.2"/>
<line x1="835.35" y1="501" x2="835.35" y2="497" stroke="#000" stroke-width="1.2"/>
<line x1="899.45" y1="501" x2="899.45" y2="497" stroke="#000" stroke-width="1.2"/>
<line x1="129.4" y1="338.28" x2="133.4" y2="338.28" stroke="#000" stroke-width="1.2"/>
<line x1="129.4" y1="175.56" x2="133.4" y2="175.56" stroke="#000" stroke-width="1.2"/>
<line x1="899.3" y1="399.3" x2="895.3" y2="399.3" stroke="#000" stroke-width="1.2"/>
<line x1="899.3" y1="297.6" x2="895.3" y2="297.6" stroke="#000" stroke-width="1.2"/>
<line x1="899.3" y1="195.9" x2="895.3" y2="195.9" stroke="#000" stroke-width="1.2"/>
<g font-family="Liberation Sans, sans-serif" font-size="17.5" fill="#000" stroke="#fff" stroke-width="0.35" paint-order="fill">
<text x="371.8" y="42.9" textLength="47.5" lengthAdjust="spacingAndGlyphs">V1405</text><text x="423.9" y="42.9" textLength="27.6" lengthAdjust="spacingAndGlyphs">Cas</text><text x="470.3" y="42.9" textLength="33.9" lengthAdjust="spacingAndGlyphs">2021</text><text x="518.5" y="42.9" textLength="17.6" lengthAdjust="spacingAndGlyphs">12</text><text x="545.4" y="42.9" textLength="50.3" lengthAdjust="spacingAndGlyphs">25.403</text><text x="595.9" y="42.9" textLength="30.4" lengthAdjust="spacingAndGlyphs">(UT)</text>

<text x="57" y="508" textLength="58.4" lengthAdjust="spacingAndGlyphs">0.0E+00</text>
<text x="56.6" y="183" textLength="57.6" lengthAdjust="spacingAndGlyphs">4.0E–12</text>
<text x="56.6" y="345.8" textLength="57.6" lengthAdjust="spacingAndGlyphs">2.0E–12</text>
<text x="110.2" y="533" textLength="37.8" lengthAdjust="spacingAndGlyphs">3500</text>
<text x="174.2" y="533" textLength="37.8" lengthAdjust="spacingAndGlyphs">4000</text>
<text x="238.3" y="533" textLength="37.8" lengthAdjust="spacingAndGlyphs">4500</text>
<text x="302.4" y="533" textLength="37.8" lengthAdjust="spacingAndGlyphs">5000</text>
<text x="366.6" y="533" textLength="37.8" lengthAdjust="spacingAndGlyphs">5500</text>
<text x="430.7" y="533" textLength="37.8" lengthAdjust="spacingAndGlyphs">6000</text>
<text x="494.7" y="533" textLength="37.8" lengthAdjust="spacingAndGlyphs">6500</text>
<text x="558.8" y="533" textLength="37.8" lengthAdjust="spacingAndGlyphs">7000</text>
<text x="622.9" y="533" textLength="37.8" lengthAdjust="spacingAndGlyphs">7500</text>
<text x="687.0" y="533" textLength="37.8" lengthAdjust="spacingAndGlyphs">8000</text>
<text x="751.1" y="533" textLength="37.8" lengthAdjust="spacingAndGlyphs">8500</text>
<text x="815.2" y="533" textLength="37.8" lengthAdjust="spacingAndGlyphs">9000</text>
<text x="879.3" y="533" textLength="37.8" lengthAdjust="spacingAndGlyphs">9500</text>
<text x="458" y="565" textLength="81.7" lengthAdjust="spacingAndGlyphs">Wavelength</text><text x="541.5" y="565">(</text><text x="549" y="565" textLength="11" lengthAdjust="spacingAndGlyphs">Å</text><text x="563.5" y="565">)</text>
<text transform="translate(44.5,378.4) rotate(-90)" x="0" y="0" textLength="30.7" lengthAdjust="spacingAndGlyphs">Flux</text><text transform="translate(44.5,344.0) rotate(-90)" x="0" y="0">(</text><text transform="translate(44.5,336.6) rotate(-90)" x="0" y="0" textLength="26.5" lengthAdjust="spacingAndGlyphs">erg</text><text transform="translate(44.5,302) rotate(-90)" x="0" y="0" textLength="27.5" lengthAdjust="spacingAndGlyphs">cm</text><text transform="translate(44.5,270.6) rotate(-90)" x="0" y="0" textLength="8.9" lengthAdjust="spacingAndGlyphs">2</text><text transform="translate(44.5,249.3) rotate(-90)" x="0" y="0" textLength="8.9" lengthAdjust="spacingAndGlyphs">s</text><text transform="translate(44.5,231.1) rotate(-90)" x="0" y="0" textLength="10.6" lengthAdjust="spacingAndGlyphs">A</text><text transform="translate(44.5,219.2) rotate(-90)" x="0" y="0">)</text>
</g>
<g font-family="Liberation Sans, sans-serif" font-size="17.5" fill="#FF00FF" stroke="#fff" stroke-width="0.35" paint-order="fill">
<text x="911.6" y="508.0" textLength="58.4" lengthAdjust="spacingAndGlyphs">0.0E+00</text>
<text x="911.6" y="407.3" textLength="58.4" lengthAdjust="spacingAndGlyphs">2.0E–13</text>
<text x="911.6" y="305.6" textLength="58.4" lengthAdjust="spacingAndGlyphs">4.0E–13</text>
<text x="911.6" y="203.9" textLength="58.4" lengthAdjust="spacingAndGlyphs">6.0E–13</text>
<text x="911.6" y="102.2" textLength="58.4" lengthAdjust="spacingAndGlyphs">8.0E–13</text>
</g>
<g stroke="#000" stroke-width="1.1" fill="none"><polyline points="34,268.2 29.5,272.2 34,276.2"/><line x1="509.7" y1="43.7" x2="517.7" y2="29"/><line x1="537.8" y1="43.7" x2="545.5" y2="29"/><line x1="31.2" y1="302.8" x2="44.9" y2="311.3"/><line x1="31.5" y1="251" x2="45.5" y2="262"/><line x1="31.5" y1="231.4" x2="45.5" y2="240"/></g>
</svg></body></html>
